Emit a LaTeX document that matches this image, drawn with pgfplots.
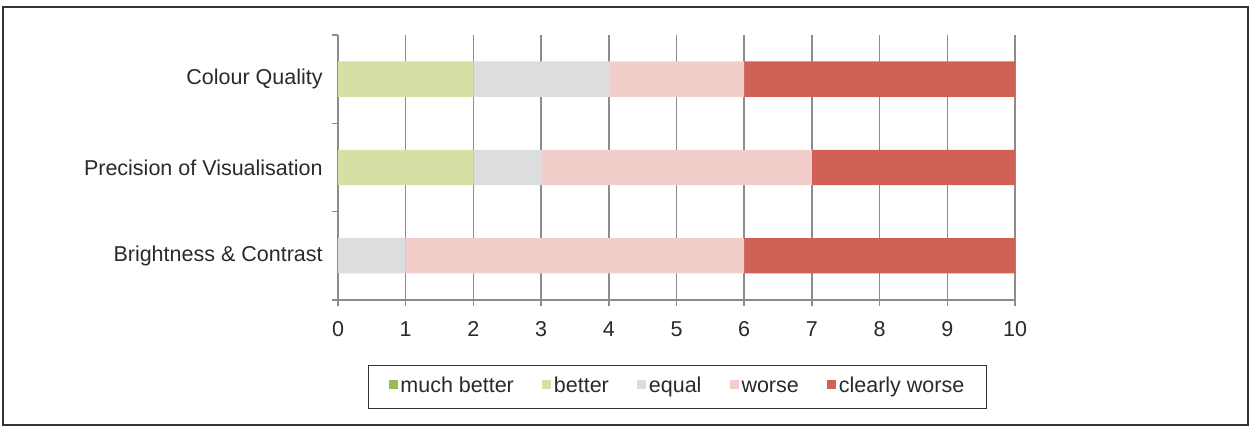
\documentclass[border=0pt]{standalone}
\usepackage{fontspec}
\setmainfont{Liberation Sans}
\usepackage{pgfplots}
\pgfplotsset{compat=1.18}
\definecolor{muchbetter}{HTML}{9BBB59}
\definecolor{better}{HTML}{D7E0A4}
\definecolor{equalc}{HTML}{DCDDDE}
\definecolor{worse}{HTML}{F2CDCA}
\definecolor{clearlyworse}{HTML}{CF6157}
\definecolor{gridgray}{HTML}{8C8C8C}
\definecolor{txt}{HTML}{2A2A2A}
\begin{document}
\fontsize{21.5bp}{25bp}\selectfont
\begin{tikzpicture}
\useasboundingbox (0bp,0bp) rectangle (1250bp,428bp);
\draw[line width=1.5bp, black!80] (3bp,3bp) rectangle (1248bp,421bp);
\begin{axis}[
  at={(338bp,128bp)}, anchor=south west,
  scale only axis, width=677bp, height=265bp,
  xbar stacked, bar width=0.4,
  xmin=0, xmax=10, ymin=-0.5, ymax=2.5,
  xtick={0,...,10},
  ytick={-0.5,0.5,1.5,2.5},
  yticklabels={,,,},
  extra y ticks={0,1,2},
  extra y tick labels={Brightness \& Contrast,Precision of Visualisation,Colour Quality},
  extra y tick style={major tick length=0pt, grid=none},
  axis x line*=bottom, axis y line*=left,
  axis line style={gridgray, line width=1.5bp, -},
  tick align=outside, major tick length=6bp,
  every tick/.style={gridgray, line width=1.5bp},
  xmajorgrids, grid style={gridgray, line width=1.5bp},
  /pgf/number format/assume math mode=true,
  tick label style={font=\fontsize{21.5bp}{25bp}\selectfont, text=txt},
  yticklabel style={xshift=-8bp},
  xticklabel style={yshift=-8bp},
  legend style={at={(0.502,-0.328)}, anchor=center, legend columns=-1,
    draw=black!80, line width=1.2bp, font=\fontsize{21.5bp}{25bp}\selectfont,
    text=txt, inner xsep=20bp, inner ysep=10bp,
    nodes={inner xsep=2.5bp, text height=15bp, text depth=4bp},
    /tikz/every even column/.append style={column sep=26bp}},
  legend image code/.code={\fill[#1] (0bp,-2bp) rectangle (9bp,7bp);},
]
\addplot+[fill=muchbetter, draw=none] coordinates {(0,0) (0,1) (0,2)};
\addplot+[fill=better, draw=none] coordinates {(0,0) (2,1) (2,2)};
\addplot+[fill=equalc, draw=none] coordinates {(1,0) (1,1) (2,2)};
\addplot+[fill=worse, draw=none] coordinates {(5,0) (4,1) (2,2)};
\addplot+[fill=clearlyworse, draw=none] coordinates {(4,0) (3,1) (4,2)};
\legend{much better, better, equal, worse, clearly worse}
\end{axis}
\end{tikzpicture}
\end{document}
